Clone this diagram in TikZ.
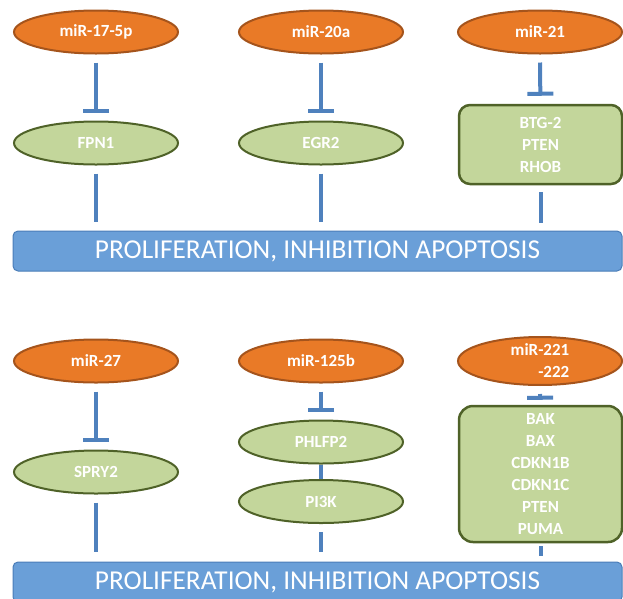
\documentclass[tikz,border=0pt]{standalone}
\usepackage{fontspec}
\setmainfont{Carlito}
\usetikzlibrary{shapes.geometric,arrows.meta}
\definecolor{orfill}{HTML}{E97A27}
\definecolor{orline}{HTML}{A5541C}
\definecolor{grfill}{HTML}{C3D69B}
\definecolor{grline}{HTML}{4F6228}
\definecolor{blueln}{HTML}{4F81BD}
\definecolor{barfill}{HTML}{6A9FD8}
\definecolor{barline}{HTML}{4A7DB8}
\begin{document}
\begin{tikzpicture}[x=1pt,y=-1pt,
  lbl/.style={text=white, font=\fontsize{17}{22}\selectfont\bfseries},
  mir/.style={ellipse, draw=orline, fill=orfill, line width=2pt, minimum width=164pt, minimum height=43pt, inner sep=0pt, lbl},
  gene/.style={ellipse, draw=grline, fill=grfill, line width=2pt, minimum width=164pt, minimum height=43pt, inner sep=0pt, lbl},
  genebox/.style={rectangle, rounded corners=11pt, draw=grline, fill=grfill, line width=2.5pt, inner sep=0pt, align=center, lbl},
  outbar/.style={rectangle, rounded corners=5pt, draw=barline, fill=barfill, line width=1pt, minimum width=609pt, minimum height=40pt, inner sep=0pt, text=white, font=\fontsize{27.3}{30}\selectfont},
  inhib/.style={draw=blueln, line width=4pt, -{Bar[width=26pt,line width=4pt]}, shorten <=8pt, shorten >=8pt},
  link/.style={draw=blueln, line width=4pt},
]
\useasboundingbox (0,0) rectangle (623,598);
% top panel
\node[mir] (m17) at (96,32) {miR-17-5p};
\node[mir] (m20) at (321,32) {miR-20a};
\node[mir] (m21) at (540,32) {miR-21};
\node[gene] (fpn) at (96,143) {FPN1};
\node[gene] (egr) at (321,143) {EGR2};
\node[genebox, minimum width=163pt, minimum height=79pt] (btg) at (540.5,144.5) {BTG-2\\PTEN\\RHOB};
\node[outbar] (out1) at (317.5,251) {PROLIFERATION, INHIBITION APOPTOSIS};
\draw[inhib] (m17) -- (fpn);
\draw[inhib] (m20) -- (egr);
\draw[inhib] (m21) -- (btg);
\draw[link, shorten <=8pt, shorten >=9pt] (fpn.south) -- (fpn.south |- out1.north);
\draw[link, shorten <=8pt, shorten >=9pt] (egr.south) -- (egr.south |- out1.north);
\draw[link, shorten <=7pt, shorten >=8pt] (btg.south) -- (btg.south |- out1.north);
% bottom panel
\node[mir] (m27) at (96,361) {miR-27};
\node[mir] (m125) at (321,361) {miR-125b};
\node[mir, align=right] (m221) at (540,361) {miR-221\\-222};
\node[gene] (spry) at (96,472) {SPRY2};
\node[gene] (phl) at (321,442) {PHLFP2};
\node[gene] (pi3k) at (321,501.5) {PI3K};
\node[genebox, rounded corners=14pt, minimum width=163pt, minimum height=136pt] (bak) at (540.5,474) {BAK\\BAX\\CDKN1B\\CDKN1C\\PTEN\\PUMA};
\node[outbar] (out2) at (317.5,582) {PROLIFERATION, INHIBITION APOPTOSIS};
\draw[inhib] (m27) -- (spry);
\draw[inhib] (m125) -- (phl);
\draw[inhib, shorten >=5pt] (m221) -- (bak);
\draw[link] (phl) -- (pi3k);
\draw[link, shorten <=8pt, shorten >=10pt] (spry.south) -- (spry.south |- out2.north);
\draw[link, shorten <=8pt, shorten >=10pt] (pi3k.south) -- (pi3k.south |- out2.north);
\draw[link, shorten <=3pt, shorten >=6pt] (bak.south) -- (bak.south |- out2.north);
\end{tikzpicture}
\end{document}
